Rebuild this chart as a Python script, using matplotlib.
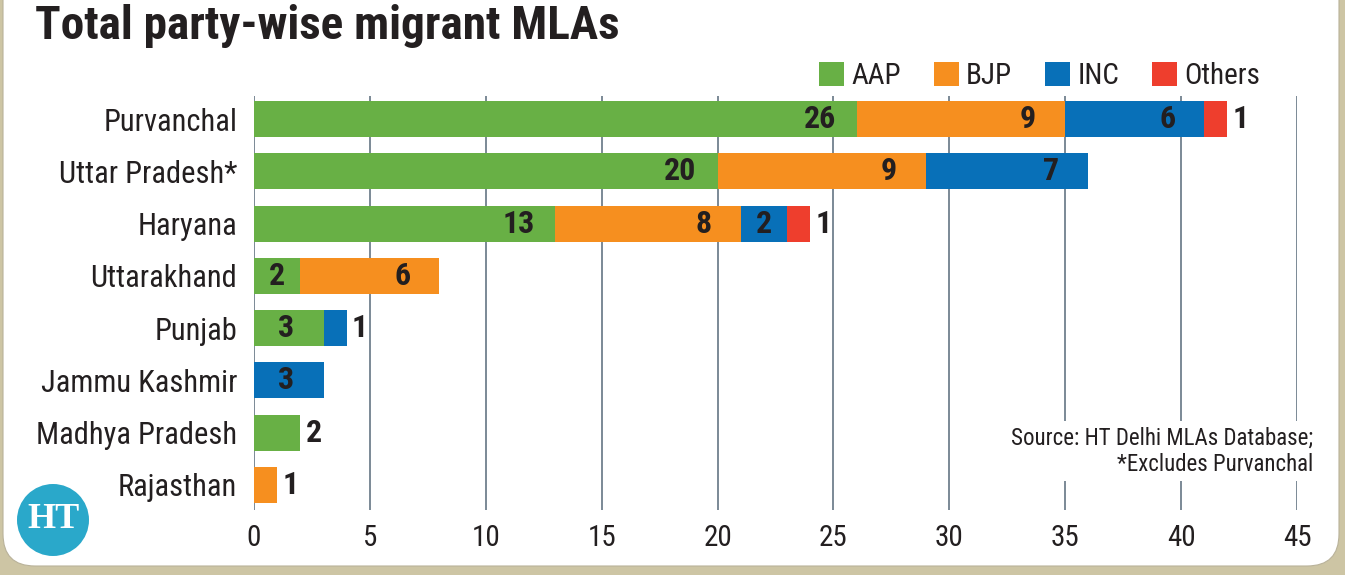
import matplotlib.pyplot as plt
from matplotlib import font_manager
from matplotlib.patches import Patch, FancyBboxPatch, Circle

states = ["Purvanchal", "Uttar Pradesh*", "Haryana", "Uttarakhand", "Punjab",
          "Jammu Kashmir", "Madhya Pradesh", "Rajasthan"]
parties = ["AAP", "BJP", "INC", "Others"]
aap = [26, 20, 13, 2, 3, 0, 2, 0]
bjp = [9, 9, 8, 6, 0, 0, 0, 1]
inc = [6, 7, 2, 0, 1, 3, 0, 0]
others = [1, 0, 1, 0, 0, 0, 0, 0]
xticks = [0, 5, 10, 15, 20, 25, 30, 35, 40, 45]

colors = ["#68b045", "#f68f1f", "#0870b8", "#ee3e2d"]
ink = "#231f20"

# pick a narrow face if the system has one
names = {f.name for f in font_manager.fontManager.ttflist}
narrow = [n for n in ["Liberation Sans Narrow", "Roboto Condensed", "Open Sans Condensed",
                      "DejaVu Sans Condensed"] if n in names]
plt.rcParams["font.family"] = narrow + ["DejaVu Sans"]
plt.rcParams["font.stretch"] = "condensed"

fig = plt.figure(figsize=(13.45, 5.75), dpi=100)
fig.patch.set_facecolor("#cdc5a4")

# white card with rounded bottom corners
card = FancyBboxPatch((0.03, 0.09), 13.36, 6.0, boxstyle="round,pad=0,rounding_size=0.32",
                      transform=fig.dpi_scale_trans, facecolor="white", edgecolor="#b9b29a",
                      lw=0.8, zorder=-10)
fig.add_artist(card)

ax = fig.add_axes([254 / 1345, 65 / 575, 1043 / 1345, 414 / 575])
ax.set_facecolor("none")

series = [aap, bjp, inc, others]
ypos = list(range(len(states)))
left = [0] * len(states)
last = []
for i in ypos:
    last.append(max(k for k in range(len(series)) if series[k][i] > 0))

for k, vals in enumerate(series):
    ax.barh(ypos, vals, left=left, height=0.69, color=colors[k], zorder=3)
    for i, v in enumerate(vals):
        if v == 0:
            continue
        end = left[i] + v
        if k == last[i] and v <= 2:
            ax.text(end + 0.22, i, str(v), ha="left", va="center", fontsize=23,
                    fontweight="bold", color=ink, zorder=4)
        else:
            off = 1.6 if v >= 3 else v / 2
            ax.text(end - off, i, str(v), ha="center", va="center", fontsize=23,
                    fontweight="bold", color=ink, zorder=4)
    left = [a + b for a, b in zip(left, vals)]

ax.set_xlim(0, 45)
ax.set_ylim(7.48, -0.44)
ax.set_xticks(xticks)
ax.set_yticks(ypos)
ax.set_yticklabels(states)
ax.grid(axis="x", color="#7b8996", lw=1.4, zorder=0)
ax.set_axisbelow(True)
for s in ax.spines.values():
    s.set_visible(False)
ax.tick_params(axis="x", length=0, pad=10, labelsize=21, labelcolor=ink)
ax.tick_params(axis="y", length=0, pad=12, labelsize=22, labelcolor=ink)

handles = [Patch(facecolor=c) for c in colors]
ax.legend(handles, parties, ncol=4, loc="center right", bbox_to_anchor=(0.9645, 1 + 20 / 414),
          frameon=False, fontsize=21, handlelength=0.86, handleheight=0.86,
          handletextpad=0.25, columnspacing=1.12, borderaxespad=0, borderpad=0,
          labelcolor=ink)

fig.text(35 / 1345, 1 - 39 / 575, "Total party-wise migrant MLAs", fontsize=34,
         fontweight="bold", color=ink, va="baseline", ha="left")

fig.text(1313 / 1345, 1 - 451 / 575, "Source: HT Delhi MLAs Database;\n*Excludes Purvanchal",
         ha="right", va="center", multialignment="right", fontsize=16.5, color=ink,
         linespacing=1.2, zorder=5,
         bbox=dict(facecolor="white", edgecolor="none", pad=4))

# HT logo
fig.add_artist(Circle((0.53, 0.55), 0.36, transform=fig.dpi_scale_trans,
                      facecolor="#2aa8ca", edgecolor="none"))
fig.text(53 / 1345, 55 / 575, "HT", ha="center", va="center", fontsize=26,
         fontweight="bold", family=["Liberation Serif", "DejaVu Serif"], color="white")

fig.savefig("out.png", dpi=100, facecolor=fig.get_facecolor())
